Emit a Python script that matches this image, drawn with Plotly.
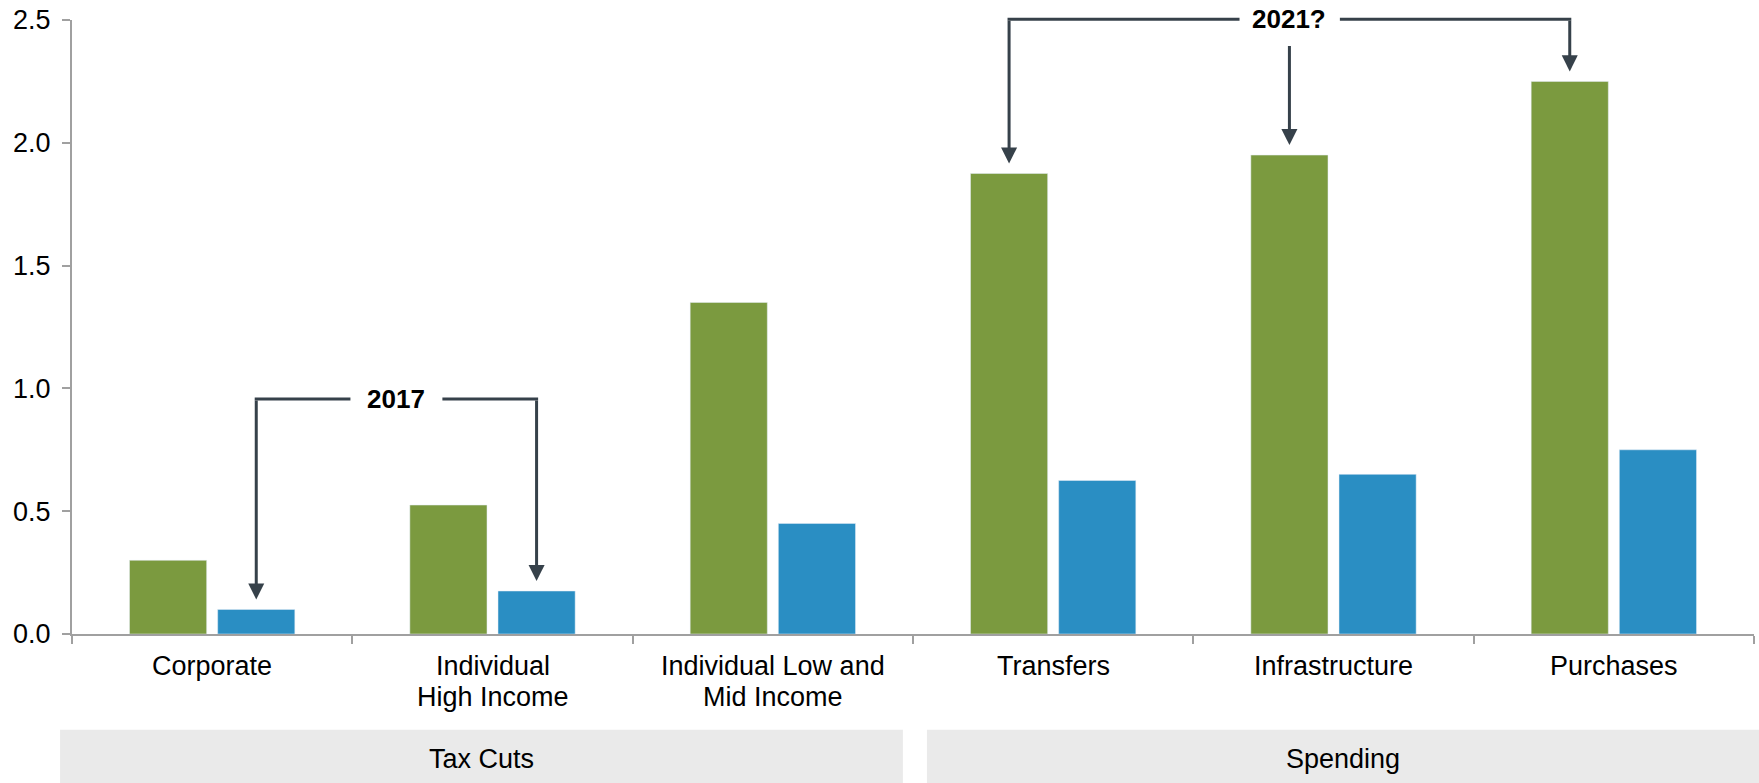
import plotly.graph_objects as go

# ---------------- data ----------------
categories = ["Corporate", "Individual<br>High Income", "Individual Low and<br>Mid Income",
              "Transfers", "Infrastructure", "Purchases"]
green_values = [0.30, 0.525, 1.35, 1.875, 1.95, 2.25]
blue_values = [0.10, 0.175, 0.45, 0.625, 0.65, 0.75]
y_ticks = [0.0, 0.5, 1.0, 1.5, 2.0, 2.5]
group_labels = ["Tax Cuts", "Spending"]
label_2017 = "2017"
label_2021 = "2021?"

# ---------------- style ----------------
GREEN = "#7B9A3F"
BLUE = "#2A8EC3"
ARROW = "#36414A"
AXIS = "#A0A0A0"
FONT = "Liberation Sans, Arial, sans-serif"
FS = 27
FSB = 26
YMAX = 2.5
BARGAP = 0.371
GROUPGAP = 0.125
OFF = (1 - BARGAP) / 4  # center offset of each bar within category
PLOT_H = 614  # px height of plot area
LINE1_PX = 32  # px below axis of first label line centre
LINE_STEP_PX = 30.5

fig = go.Figure()
fig.add_bar(x=categories, y=green_values, marker_color=GREEN, name="Green")
fig.add_bar(x=categories, y=blue_values, marker_color=BLUE, name="Blue")

shapes = []
annotations = []

# category labels (tight line spacing as in reference)
for i, cat in enumerate(categories):
    for j, line in enumerate(cat.split("<br>")):
        annotations.append(dict(x=i, y=-(LINE1_PX + j * LINE_STEP_PX) / PLOT_H, xref="x", yref="paper",
                                text=line, showarrow=False, xanchor="center", yanchor="middle",
                                font=dict(family=FONT, size=FS, color="#000")))

def bracket(level, targets, label, gap_l, gap_r, tail_mid=None):
    xs = [i + o for i, o, v in targets]
    xl, xr = min(xs), max(xs)
    xc = (xl + xr) / 2
    ext = 0.0055
    for a, b in [(xl - ext, xc - gap_l), (xc + gap_r, xr + ext)]:
        shapes.append(dict(type="line", xref="x", yref="paper", x0=a, x1=b,
                           y0=level / YMAX, y1=level / YMAX,
                           line=dict(color=ARROW, width=3)))
    for (i, o, v) in targets:
        x = i + o
        tail = level
        if abs(x - xc) < 1e-6 and tail_mid is not None:
            tail = tail_mid
        annotations.append(dict(x=x, y=v, xref="x", yref="y", ax=x, ay=tail,
                                axref="x", ayref="y", text="", showarrow=True,
                                arrowhead=2, arrowsize=1.07, arrowwidth=3,
                                arrowcolor=ARROW, standoff=10))
    annotations.append(dict(x=xc, y=level / YMAX, xref="x", yref="paper", text="<b>%s</b>" % label,
                            showarrow=False, font=dict(family=FONT, size=FSB, color="#000"),
                            xanchor="center", yanchor="middle"))

bracket(0.957, [(0, OFF, blue_values[0]), (1, OFF, blue_values[1])], label_2017, 0.164, 0.164)
bracket(2.503, [(3, -OFF, green_values[3]), (4, -OFF, green_values[4]), (5, -OFF, green_values[5])],
        label_2021, 0.178, 0.18, tail_mid=2.40)

# group boxes
boxes = [(-0.0071, 0.494), (0.5083, 1.003)]
for (x0, x1), lab in zip(boxes, group_labels):
    shapes.append(dict(type="rect", xref="paper", yref="paper", x0=x0, x1=x1,
                       y0=-0.26, y1=-0.156, fillcolor="#EAEAEA", line=dict(width=0), layer="below"))
    annotations.append(dict(x=(x0 + x1) / 2, y=-0.203, xref="paper", yref="paper", text=lab,
                            showarrow=False, font=dict(family=FONT, size=FS, color="#000"),
                            xanchor="center", yanchor="middle"))

fig.update_layout(
    width=1759, height=783,
    margin=dict(l=72, r=5, t=20, b=149),
    plot_bgcolor="white", paper_bgcolor="white",
    barmode="group", bargap=BARGAP, bargroupgap=GROUPGAP,
    showlegend=False,
    font=dict(family=FONT, size=FS, color="#000"),
    shapes=shapes, annotations=annotations,
    xaxis=dict(showline=True, linecolor=AXIS, linewidth=2, ticks="outside",
               tickson="boundaries", ticklen=8, tickwidth=2, tickcolor=AXIS,
               showgrid=False, showticklabels=False),
    yaxis=dict(range=[0, YMAX], tickvals=y_ticks, tickformat=".1f", showline=True,
               linecolor=AXIS, linewidth=2, ticks="outside", ticklen=8, tickwidth=2,
               tickcolor=AXIS, showgrid=False, zeroline=False, ticklabelstandoff=6,
               tickfont=dict(family=FONT, size=FS, color="#000")),
)

fig.write_html("out.html")
